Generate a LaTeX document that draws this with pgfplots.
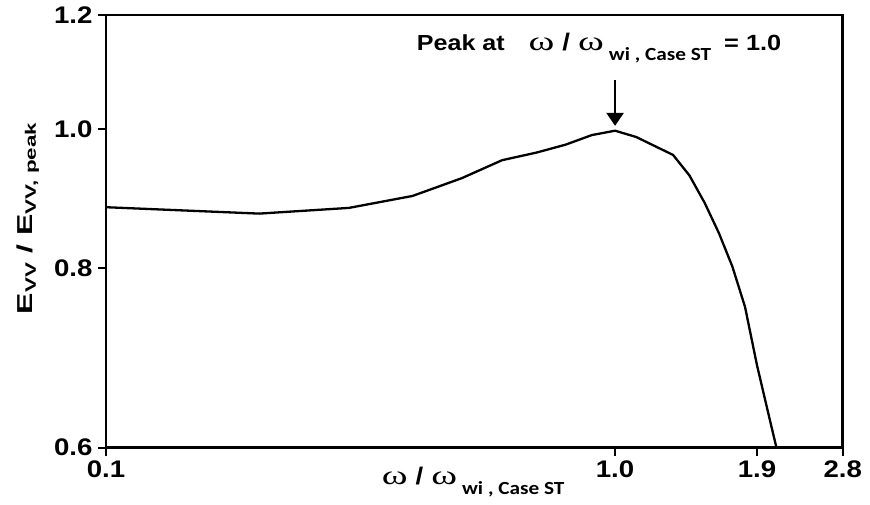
\documentclass[border=0pt]{standalone}
\usepackage{fontspec}
\setmainfont{Liberation Sans}
\newfontfamily\omegafont{Liberation Serif}
\newfontfamily\calib{Carlito}
\usepackage{graphicx}
\usepackage{pgfplots}
\pgfplotsset{compat=1.18}
\usetikzlibrary{arrows.meta}
\newcommand{\sx}[1]{\scalebox{1.15}[1]{#1}}
\newcommand{\omg}{\scalebox{1.45}[1]{\omegafont\fontsize{27}{30}\selectfont ω}}
\newcommand{\ratio}{\omg\hspace{8pt}\sx{\fontsize{24}{28}\selectfont\bfseries /}\hspace{8pt}\omg\hspace{5pt}\raisebox{-10pt}{\sx{\calib\fontsize{18.5}{20}\selectfont\bfseries wi , Case ST}}}
\begin{document}
\begin{tikzpicture}
\useasboundingbox (-106pt,-57.3pt) rectangle (764pt,447.7pt);
\begin{axis}[
  at={(0pt,0pt)}, anchor=south west,
  scale only axis, width=736.7pt, height=432.7pt,
  xmode=log, ymode=log,
  xmin=0.1, xmax=2.8, ymin=0.6, ymax=1.2,
  xtick={0.1,1,1.9,2.8}, xticklabels={\sx{0.1},\sx{1.0},\sx{1.9},\sx{2.8}},
  ytick={0.6,0.8,1.0,1.2}, yticklabels={\sx{0.6},\sx{0.8},\sx{1.0},\sx{1.2}},
  xminorticks=false, yminorticks=false,
  minor xtick={}, minor ytick={},
  tick pos=left, tick align=outside,
  major tick length=8pt,
  major tick style={line width=2.2pt, black},
  axis line style={line width=2.5pt},
  ticklabel style={font=\fontsize{24}{28}\selectfont\bfseries},
  xticklabel shift=2pt, yticklabel shift=2pt,
]
\addplot[black, line width=2.3pt, line join=round] coordinates {
(0.1,0.882) (0.2,0.873) (0.3,0.881) (0.4,0.898) (0.5,0.924) (0.6,0.951)
(0.7,0.9625) (0.8,0.975) (0.9,0.990) (1.0,0.997) (1.1,0.987) (1.3,0.959)
(1.4,0.928) (1.5,0.888) (1.6,0.846) (1.7,0.802) (1.8,0.752) (1.9,0.685)
(2.0,0.634) (2.075,0.6)
};
\draw[line width=2.5pt, -{Triangle[width=17pt,length=13pt]}] (axis cs:1,1.081) -- (axis cs:1,1.0047);
\end{axis}
\node[anchor=base west, inner sep=0pt] at (310.7pt,397pt) {\sx{\fontsize{21.8}{26}\selectfont\bfseries Peak at}\hspace{24pt}\ratio\hspace{13pt}\sx{\fontsize{22}{26}\selectfont\bfseries = 1.0}};
\node[anchor=base west, inner sep=0pt] at (275.7pt,-37.3pt) {\ratio};
\node[rotate=90, inner sep=0pt] at (-78pt,229.7pt) {\scalebox{1.6}[1.08]{\fontsize{20}{24}\selectfont\bfseries E\textsubscript{VV} / E\textsubscript{VV, peak}}};
\end{tikzpicture}
\end{document}
